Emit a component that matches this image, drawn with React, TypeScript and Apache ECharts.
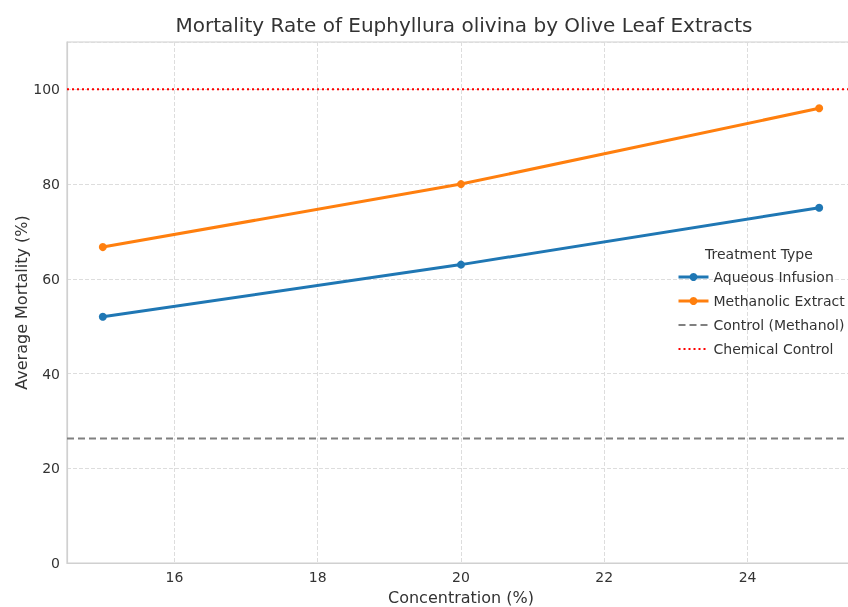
import React, { useEffect, useRef } from "react";
import * as echarts from "echarts";

const concentrations = [15, 20, 25];
const aqueous = [52, 63, 75];
const methanolic = [66.7, 80, 96];
const controlMethanol = 26.3;
const chemicalControl = 100;
const xTicks = [16, 18, 20, 22, 24];
const xRange = [14.5, 25.5];

const FONT = "DejaVu Sans";

export default function App() {
  const ref = useRef<HTMLDivElement>(null);
  useEffect(() => {
    const chart = echarts.init(ref.current!, undefined, { renderer: "svg" });
    chart.setOption({
      animation: false,
      textStyle: { fontFamily: FONT },
      title: {
        text: "Mortality Rate of Euphyllura olivina by Olive Leaf Extracts",
        left: 459,
        textAlign: "center",
        top: 10,
        textStyle: { fontFamily: FONT, fontSize: 20, fontWeight: "normal", color: "#333" },
      },
      grid: {
        left: 67,
        right: -7,
        top: 42,
        bottom: 44,
        outerBoundsMode: "none",
        containLabel: false,
        show: true,
        borderColor: "#d0d0d0",
        borderWidth: 1.2,
      },
      legend: {
        left: 672,
        top: 265,
        orient: "vertical",
        itemWidth: 30,
        itemHeight: 10,
        itemGap: 10,
        textStyle: { fontFamily: FONT, fontSize: 14, color: "#333" },
        data: [
          { name: "Aqueous Infusion", lineStyle: { width: 3 } },
          { name: "Methanolic Extract", lineStyle: { width: 3 } },
          { name: "Control (Methanol)", itemStyle: { opacity: 0 } },
          { name: "Chemical Control", itemStyle: { opacity: 0 } },
        ],
      },
      graphic: [
        {
          type: "text",
          left: 705,
          top: 247,
          style: { text: "Treatment Type", font: `14px "${FONT}"`, fill: "#333" },
        },
      ],
      xAxis: {
        type: "value",
        min: xRange[0],
        max: xRange[1],
        name: "Concentration (%)",
        nameLocation: "middle",
        nameGap: 26,
        nameMoveOverlap: false,
        nameTextStyle: { fontFamily: FONT, fontSize: 16, color: "#333" },
        axisLine: { show: true, lineStyle: { color: "#d0d0d0", width: 1.2 } },
        axisTick: { show: false, customValues: xTicks },
        axisLabel: { customValues: xTicks, fontSize: 14, color: "#333", margin: 7 },
        splitLine: { show: true, lineStyle: { type: "dashed", color: "#dddddd" } },
      },
      yAxis: {
        type: "value",
        min: 0,
        max: 110,
        interval: 20,
        name: "Average Mortality (%)",
        nameLocation: "middle",
        nameGap: 38,
        nameMoveOverlap: false,
        nameTextStyle: { fontFamily: FONT, fontSize: 16, color: "#333" },
        axisLine: { show: true, lineStyle: { color: "#d0d0d0", width: 1.2 } },
        axisTick: { show: false },
        axisLabel: { fontSize: 14, color: "#333", margin: 7, showMaxLabel: false },
        splitLine: { show: true, lineStyle: { type: "dashed", color: "#dddddd" } },
      },
      series: [
        {
          name: "Aqueous Infusion",
          type: "line",
          data: concentrations.map((c, i) => [c, aqueous[i]]),
          symbol: "circle",
          symbolSize: 8,
          lineStyle: { width: 3, color: "#1f77b4" },
          itemStyle: { color: "#1f77b4" },
          z: 3,
        },
        {
          name: "Methanolic Extract",
          type: "line",
          data: concentrations.map((c, i) => [c, methanolic[i]]),
          symbol: "circle",
          symbolSize: 8,
          lineStyle: { width: 3, color: "#ff7f0e" },
          itemStyle: { color: "#ff7f0e" },
          z: 3,
        },
        {
          name: "Control (Methanol)",
          type: "line",
          data: xRange.map((x) => [x, controlMethanol]),
          symbol: "none",
          lineStyle: { width: 2, color: "#808080", type: [7, 4] },
          itemStyle: { color: "#808080" },
          z: 2,
        },
        {
          name: "Chemical Control",
          type: "line",
          data: xRange.map((x) => [x, chemicalControl]),
          symbol: "none",
          lineStyle: { width: 2, color: "#ff0000", type: [2, 3] },
          itemStyle: { color: "#ff0000" },
          z: 2,
        },
      ],
    });
    return () => chart.dispose();
  }, []);
  return (
    <div
      ref={ref}
      style={{ position: "fixed", left: 0, top: 0, width: 848, height: 607 }}
    />
  );
}
